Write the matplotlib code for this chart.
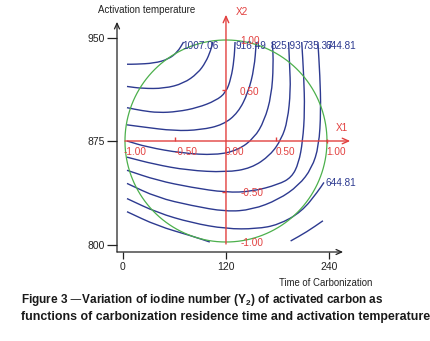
import matplotlib.pyplot as plt
import numpy as np
from matplotlib.path import Path
from matplotlib.patches import PathPatch

plt.rcParams['font.family'] = ['Liberation Sans', 'DejaVu Sans']
plt.rcParams['mathtext.default'] = 'regular'

# contour traces in coded units (X1 = carbonization time, X2 = activation temperature)
line1_x = [-0.98, -0.90, -0.71, -0.57, -0.48, -0.42]
line1_y = [0.76, 0.76, 0.77, 0.81, 0.88, 0.98]
line2_x = [-0.98, -0.83, -0.61, -0.42, -0.28, -0.20, -0.15, -0.13]
line2_y = [0.54, 0.52, 0.52, 0.57, 0.67, 0.78, 0.90, 0.98]
line3_x = [-0.98, -0.83, -0.67, -0.48, -0.28, -0.10, 0.00, 0.05, 0.08, 0.09]
line3_y = [0.33, 0.30, 0.28, 0.29, 0.33, 0.40, 0.48, 0.62, 0.80, 0.98]
line4_x = [-0.98, -0.83, -0.51, -0.25, -0.03, 0.12, 0.22, 0.28, 0.30]
line4_y = [0.16, 0.14, 0.10, 0.11, 0.16, 0.28, 0.48, 0.72, 0.98]
line5_x = [-0.98, -0.78, -0.44, -0.10, 0.12, 0.28, 0.38, 0.45, 0.47, 0.46]
line5_y = [0.00, -0.06, -0.12, -0.14, -0.09, 0.03, 0.20, 0.45, 0.75, 0.98]
line6_x = [-0.98, -0.71, -0.38, 0.00, 0.25, 0.44, 0.55, 0.61, 0.64, 0.63, 0.62]
line6_y = [-0.16, -0.23, -0.29, -0.31, -0.27, -0.14, 0.02, 0.20, 0.50, 0.75, 0.98]
line7_x = [-0.98, -0.68, -0.34, 0.00, 0.26, 0.52, 0.65, 0.72, 0.76, 0.78, 0.77, 0.75]
line7_y = [-0.29, -0.39, -0.46, -0.51, -0.50, -0.43, -0.36, -0.22, 0.00, 0.30, 0.65, 0.98]
line8_x = [-0.98, -0.68, -0.34, 0.00, 0.26, 0.52, 0.72, 0.85, 0.92, 0.94, 0.93, 0.91]
line8_y = [-0.42, -0.56, -0.64, -0.70, -0.68, -0.58, -0.44, -0.27, -0.05, 0.30, 0.65, 0.98]
line9_x = [-0.98, -0.68, -0.34, 0.00, 0.30, 0.52, 0.75, 0.91, 0.97]
line9_y = [-0.57, -0.71, -0.81, -0.87, -0.87, -0.83, -0.70, -0.50, -0.41]
line10_x = [-0.98, -0.68, -0.34, -0.16]
line10_y = [-0.70, -0.84, -0.94, -1.00]
line11_x = [0.64, 0.80, 0.96]
line11_y = [-0.99, -0.90, -0.79]

contour_lines = [(line1_x, line1_y), (line2_x, line2_y), (line3_x, line3_y),
                 (line4_x, line4_y), (line5_x, line5_y), (line6_x, line6_y),
                 (line7_x, line7_y), (line8_x, line8_y), (line9_x, line9_y),
                 (line10_x, line10_y), (line11_x, line11_y)]

level_labels = ['1007.06', '916.49', '825.93', '735.37', '644.81', '644.81']

coded_ticks = [-1.0, -0.5, 0.0, 0.5, 1.0]
coded_labels = ['-1.00', '-0.50', '0.00', '0.50', '1.00']

time_ticks = ['0', '120', '240']
temp_ticks = ['800', '875', '950']

navy = '#2d3a90'
red = '#e2403f'
green = '#4cb04c'


def smooth(xs, ys):
    # quadratic bezier through the midpoints of the traced polyline
    pts = list(zip(xs, ys))
    verts = [pts[0]]
    codes = [Path.MOVETO]
    if len(pts) > 2:
        mid = ((pts[0][0] + pts[1][0]) / 2, (pts[0][1] + pts[1][1]) / 2)
        verts.append(mid)
        codes.append(Path.LINETO)
        for i in range(1, len(pts) - 1):
            nxt = ((pts[i][0] + pts[i + 1][0]) / 2, (pts[i][1] + pts[i + 1][1]) / 2)
            verts += [pts[i], nxt]
            codes += [Path.CURVE3, Path.CURVE3]
    verts.append(pts[-1])
    codes.append(Path.LINETO)
    return Path(verts, codes)


fig = plt.figure(figsize=(4.31, 3.41), dpi=100)
ax = fig.add_axes([117 / 431, 89 / 341, 243 / 431, 242 / 341])
ax.set_xlim(-1.079, 1.327)
ax.set_ylim(-1.099, 1.297)
for s in ax.spines.values():
    s.set_visible(False)

# black axes with arrows
ax.annotate('', xy=(-1.079, 1.18), xytext=(-1.079, -1.099),
            arrowprops=dict(arrowstyle='->,head_length=0.4,head_width=0.18', color='#222222',
                            lw=0.9, shrinkA=0, shrinkB=0))
ax.annotate('', xy=(1.16, -1.099), xytext=(-1.079, -1.099),
            arrowprops=dict(arrowstyle='->,head_length=0.4,head_width=0.18', color='#222222',
                            lw=0.9, shrinkA=0, shrinkB=0))
ax.set_xticks([-1.02, 0.0, 1.02])
ax.set_xticklabels(time_ticks)
ax.set_yticks([-1.03, 0.0, 1.02])
ax.set_yticklabels(temp_ticks)
ax.tick_params(axis='x', length=5, width=0.9, pad=2, labelsize=7.5, colors='#222222')
ax.tick_params(axis='y', length=7.5, width=0.9, pad=1.5, labelsize=7.5, colors='#222222')

# design circle
t = np.linspace(0, 2 * np.pi, 300)
ax.plot(np.cos(t), np.sin(t), color=green, lw=0.9)

# contours
for xs, ys in contour_lines:
    ax.add_patch(PathPatch(smooth(xs, ys), fill=False, edgecolor=navy, lw=1.0))

lab_pos = [(-0.43, 0.995), (0.09, 0.995), (0.44, 0.995), (0.76, 0.995), (0.985, 0.995)]
for txt, (x, y) in zip(level_labels[:5], lab_pos):
    ax.text(x, y, txt, color=navy, fontsize=7.2, ha='left', va='top')
ax.text(0.99, -0.415, level_labels[5], color=navy, fontsize=7.2, ha='left', va='center')

# coded red axes
arrow_red = dict(arrowstyle='->,head_length=0.45,head_width=0.2', color=red, lw=1.0,
                 shrinkA=0, shrinkB=0)
ax.annotate('', xy=(1.23, 0), xytext=(-1.0, 0), arrowprops=arrow_red)
ax.annotate('', xy=(0, 1.25), xytext=(0, -1.02), arrowprops=arrow_red)
ax.plot([-0.5, 0.5, 1.0], [0.02, 0.02, 0.0], ls='none', marker='|', ms=3, color=red)
ax.plot([-0.02, -0.02], [0.5, -0.5], ls='none', marker='_', ms=3, color=red)
for v, s in zip(coded_ticks, coded_labels):
    ax.text(v - 0.01, -0.11, s, color=red, fontsize=7.2, ha='left', va='center')
    if v != 0.0:
        ax.text(0.14, v - 0.01, s, color=red, fontsize=7.2, ha='left', va='center')
ax.text(1.09, 0.13, 'X1', color=red, fontsize=7.2, ha='left', va='center')
ax.text(0.10, 1.28, 'X2', color=red, fontsize=7.2, ha='left', va='center')

fig.text(98 / 431, 1 - 10 / 341, 'Activation temperature', fontsize=7.0, color='#222222',
         ha='left', va='center')
fig.text(372 / 431, 1 - 283 / 341, 'Time of Carbonization', fontsize=6.9, color='#222222',
         ha='right', va='center')

fig.text(21 / 431, 1 - 300 / 341, 'Figure 3 \u2014Variation of iodine number (Y$_2$) of activated carbon as',
         fontsize=8.5, fontweight='bold', ha='left', va='center', color='#1a1a1a')
fig.text(21 / 431, 1 - 317 / 341, 'functions of carbonization residence time and activation temperature',
         fontsize=8.9, fontweight='bold', ha='left', va='center', color='#1a1a1a')

fig.savefig('out.png', dpi=100)
